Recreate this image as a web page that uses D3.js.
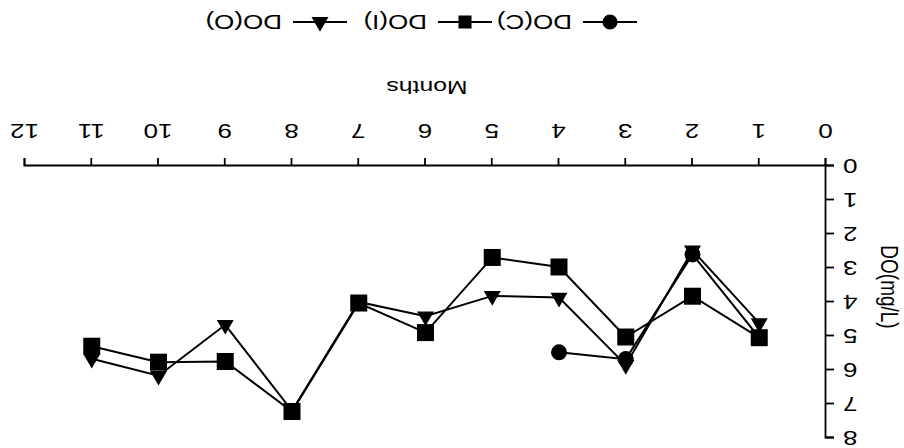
<!DOCTYPE html>
<html>
<head>
<meta charset="utf-8">
<script src="https://cdn.jsdelivr.net/npm/d3@7"></script>
<style>
  body { margin: 0; background: #fff; }
  svg { display: block; }
</style>
</head>
<body>
<script>
let w = 904;
let h = 448;

// the scanned figure is upside down, so everything is drawn upright and turned round
let months = [1, 2, 3, 4, 5, 6, 7, 8, 9, 10, 11];
let doI = [5.05, 3.83, 5.03, 2.97, 2.69, 4.9, 4.03, 7.22, 5.75, 5.77, 5.3];
let doO = [4.62, 2.48, 5.85, 3.87, 3.82, 4.42, 4.0, 7.2, 4.67, 6.17, 5.67];
let monthsC = [1, 2, 3, 4];
let doC = [5.05, 2.6, 5.68, 5.48];

let xTicks = [0, 1, 2, 3, 4, 5, 6, 7, 8, 9, 10, 11, 12];
let yTicks = [0, 1, 2, 3, 4, 5, 6, 7, 8];

let legendNames = ['DO(C)', 'DO(I)', 'DO(O)'];

let font = "'Liberation Sans', Arial, sans-serif";
let stretch = 1.3;

let series = [
  { name: 'DO(C)', x: monthsC, y: doC, symbol: d3.symbolCircle, size: 201 },
  { name: 'DO(O)', x: months, y: doO, symbol: d3.symbolTriangle, size: 125 },
  { name: 'DO(I)', x: months, y: doI, symbol: d3.symbolSquare, size: 289 }
];

let xScale = d3.scaleLinear()
  .domain([0, 12])
  .range([78, 879]);

let yScale = d3.scaleLinear()
  .domain([0, 8])
  .range([282, 10]);

let svg = d3.select('body')
  .append('svg')
  .attr('width', w)
  .attr('height', h);

svg.append('rect')
  .attr('width', w)
  .attr('height', h)
  .attr('fill', '#fff');

let g = svg.append('g')
  .attr('transform', 'rotate(180,' + (w / 2) + ',' + (h / 2) + ')');

let xAxis = d3.axisBottom(xScale)
  .tickValues(xTicks)
  .tickFormat(d3.format('d'))
  .tickSize(8)
  .tickPadding(20);

let yAxis = d3.axisLeft(yScale)
  .tickValues(yTicks)
  .tickFormat(d3.format('d'))
  .tickSize(8)
  .tickPadding(9);

let gx = g.append('g')
  .attr('transform', 'translate(0,' + yScale(0) + ')')
  .call(xAxis);

let gy = g.append('g')
  .attr('transform', 'translate(' + xScale(0) + ',0)')
  .call(yAxis);

[gx, gy].forEach((ax) => {
  ax.attr('font-family', font).attr('font-size', 20);
  ax.select('.domain').attr('stroke', '#000').attr('stroke-width', 1.8);
  ax.selectAll('.tick line').attr('stroke', '#000').attr('stroke-width', 1.8);
  ax.selectAll('.tick text').attr('fill', '#000')
    .attr('transform', 'scale(' + stretch + ',1)');
});

gy.selectAll('.tick text').attr('x', -17 / stretch);

// axis titles
g.append('text')
  .attr('transform', 'translate(477,367) scale(' + stretch + ',1)')
  .attr('text-anchor', 'middle')
  .attr('font-family', font)
  .attr('font-size', 19)
  .text('Months');

g.append('text')
  .attr('transform', 'translate(14,161) scale(' + stretch + ',1) rotate(-90)')
  .attr('text-anchor', 'middle')
  .attr('dy', '0.35em')
  .attr('font-family', font)
  .attr('font-size', 19)
  .text('DO(mg/L)');

// lines and markers
let line = d3.line()
  .x((d) => { return xScale(d[0]); })
  .y((d) => { return yScale(d[1]); });

series.forEach((s) => {
  let pts = s.x.map((m, i) => { return [m, s.y[i]]; });

  g.append('path')
    .datum(pts)
    .attr('d', line)
    .attr('fill', 'none')
    .attr('stroke', '#000')
    .attr('stroke-width', 2);

  g.append('g')
    .selectAll('path')
    .data(pts)
    .enter()
    .append('path')
    .attr('transform', (d) => { return 'translate(' + xScale(d[0]) + ',' + yScale(d[1]) + ')'; })
    .attr('d', d3.symbol().type(s.symbol).size(s.size))
    .attr('fill', '#000');
});

// legend
let legendX = d3.scalePoint()
  .domain(legendNames)
  .range([294, 584]);

let legendSymbols = {
  'DO(C)': [d3.symbolCircle, 180],
  'DO(I)': [d3.symbolSquare, 170],
  'DO(O)': [d3.symbolTriangle, 125]
};

let legend = g.append('g')
  .selectAll('g')
  .data(legendNames)
  .enter()
  .append('g')
  .attr('transform', (d) => { return 'translate(' + legendX(d) + ',426)'; });

legend.append('line')
  .attr('x1', -27)
  .attr('x2', 27)
  .attr('stroke', '#000')
  .attr('stroke-width', 2);

legend.append('path')
  .attr('d', (d) => { return d3.symbol().type(legendSymbols[d][0]).size(legendSymbols[d][1])(); })
  .attr('fill', '#000');

legend.append('text')
  .attr('transform', 'translate(38,7) scale(' + stretch + ',1)')
  .attr('font-family', font)
  .attr('font-size', 20)
  .text((d) => { return d; });
</script>
</body>
</html>
